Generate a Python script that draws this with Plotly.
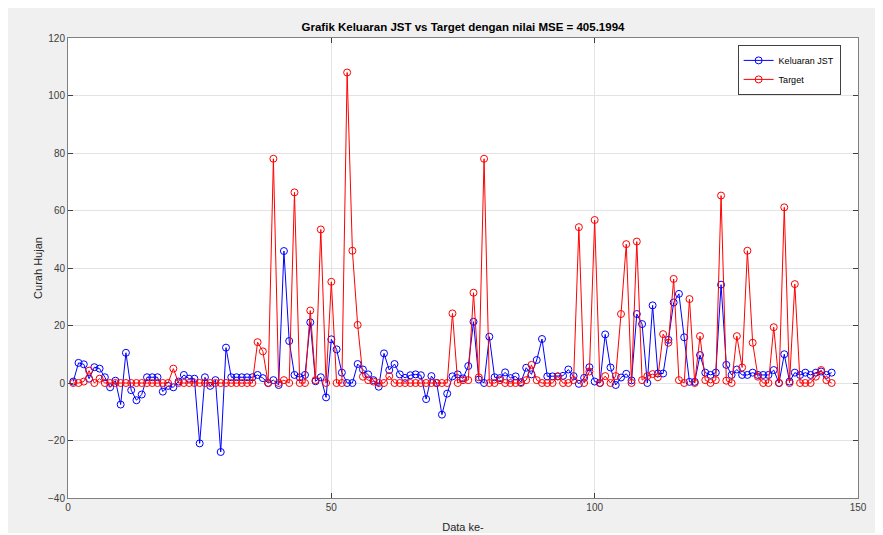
import plotly.graph_objects as go

x_index = list(range(1, 146))

keluaran_jst = [
    0.5, 7, 6.5, 1.5, 5.5, 5, 2, -1.5, 0.8, -7.5,
    10.5, -2.5, -6, -4, 2, 2, 2, -3, -1, -1.5,
    0.5, 2.8, 1.5, 1.5, -21, 2, -1, 1, -24, 12.3,
    2, 2, 2, 2, 2, 2.8, 1.7, 0, 1, -0.7,
    45.9, 14.6, 2.8, 2, 2.8, 21.1, 0.6, 2, -5, 15.2,
    11.7, 3.6, 0, 0, 6.6, 4.7, 3, 1, -1.3, 10.3,
    4.5, 6.6, 3, 1.8, 2.7, 3, 2.7, -5.6, 2.4, 0,
    -11, -3.7, 2.3, 3, 1.6, 5.9, 21.3, 1.2, 0, 16.1,
    2, 1.7, 3.7, 1.7, 2.3, 0.3, 5.3, 3, 8, 15.3,
    2.3, 2.3, 2.3, 2.5, 4.7, 2.4, -0.3, 1.8, 5.5, 0.5,
    0, 16.9, 5.4, -0.7, 1.9, 3.2, 0.9, 24, 20.5, 0,
    27, 3.3, 3.3, 15, 28, 31, 15.9, 0.4, 0.4, 9.7,
    3.6, 2.8, 3.6, 34.2, 6.3, 2.8, 4.7, 2.8, 2.8, 3.6,
    2.8, 2.8, 2.8, 4.5, 0, 10, 0.5, 3.6, 2.8, 3.6,
    2.8, 3.6, 4, 2.8, 3.6,
]

target = [
    0, 0, 0.5, 4.3, 0, 1.5, 0, 0, 0, 0,
    0, 0, 0, 0, 0, 0, 0, 0, 0, 5,
    0, 0, 0, 0, 0, 0, 0, 0, 0, 0,
    0, 0, 0, 0, 0, 14.2, 11, 0, 78, 0,
    1, 0, 66.3, 0, 0, 25.2, 1, 53.4, 0, 35.2,
    0, 0, 108, 46, 20.2, 2.2, 1, 0.5, 0, 0,
    2.4, 0, 0, 0, 0, 0, 0, 0, 0, 0,
    0, 0, 24.2, 0, 1, 1, 31.4, 2, 78, 0,
    0, 1, 0, 0, 0, 0, 1, 6.3, 1, 0,
    0, 0, 2.3, 0, 0, 1, 54.2, 0, 4, 56.7,
    0, 2.4, 0, 2.4, 24, 48.3, 0, 49.2, 1, 2.4,
    3.1, 2, 17, 14, 36.2, 1, 0, 29.2, 0, 16.3,
    1, 0, 1, 65.2, 0.8, 0, 16.3, 5.4, 46, 14,
    2.2, 0, 0, 19.4, 0, 61.1, 0, 34.4, 0, 0,
    0, 2.2, 4.5, 1, 0,
]

x_ticks = [0, 50, 100, 150]
y_ticks = [-40, -20, 0, 20, 40, 60, 80, 100, 120]
title_text = "Grafik Keluaran JST vs Target dengan nilai MSE = 405.1994"

FONT = "Liberation Sans, Arial, sans-serif"

# figure is placed at an 8px page offset; sizes chosen so the plot area lands
# at the same screen position as the reference
W, H = 868, 525
ML, MR, MT, MB = 60, 18, 30, 35

fig = go.Figure()
fig.add_trace(go.Scatter(
    x=x_index, y=keluaran_jst, mode="lines+markers", name="Keluaran JST",
    line=dict(color="rgb(0,0,255)", width=1),
    marker=dict(symbol="circle-open", size=7, color="rgb(0,0,255)", line=dict(width=1)),
))
fig.add_trace(go.Scatter(
    x=x_index, y=target, mode="lines+markers", name="Target",
    line=dict(color="rgb(255,0,0)", width=1),
    marker=dict(symbol="circle-open", size=7, color="rgb(255,0,0)", line=dict(width=1)),
))

axis_common = dict(
    showgrid=True, gridcolor="#e3e3e3", gridwidth=1, automargin=False,
    zeroline=False, showline=True, linecolor="#808080", linewidth=1, mirror="ticks",
    ticks="inside", ticklen=5, tickcolor="#404040",
    tickfont=dict(family=FONT, size=10, color="#404040"),
)

fig.update_layout(
    width=W, height=H,
    margin=dict(l=ML, r=MR, t=MT, b=MB, autoexpand=False),
    paper_bgcolor="#f0f0f0", plot_bgcolor="white",
    font=dict(family=FONT, color="#262626"),
    title=dict(text="<b>" + title_text + "</b>",
               x=(ML + (W - ML - MR) / 2) / W, xanchor="center",
               y=1 - 19 / H, yanchor="middle",
               font=dict(family=FONT, size=11.5, color="#000000")),
    xaxis=dict(range=[0, 150], tickvals=x_ticks,
               title=dict(text="Data ke-", font=dict(family=FONT, size=11, color="#262626"), standoff=12),
               **axis_common),
    yaxis=dict(range=[-40, 120], tickvals=y_ticks,
               title=dict(text="Curah Hujan", font=dict(family=FONT, size=11, color="#262626"), standoff=3),
               **axis_common),
    legend=dict(x=0.978, y=0.985, xanchor="right", yanchor="top",
                bgcolor="white", bordercolor="#404040", borderwidth=1,
                font=dict(family=FONT, size=9, color="#000000"),
                itemwidth=30, tracegroupgap=0),
    showlegend=True,
)

fig.write_html("out.html")
